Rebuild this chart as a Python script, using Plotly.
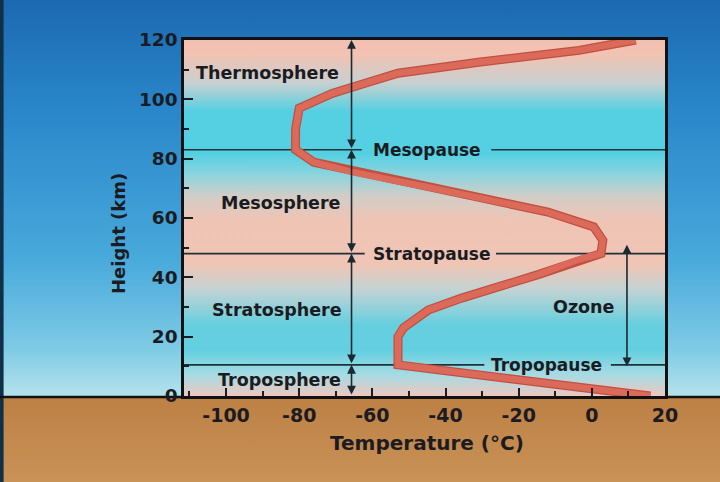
import plotly.graph_objects as go

# temperature profile
height_km = [0, 10.5, 20, 23, 29, 33, 41, 46, 48, 52.5, 57, 62, 69, 75.4, 78.8, 83,
             90, 97, 102, 105.4, 108.8, 112.5, 116.5, 120]
temp_c = [16, -53, -53, -51.5, -44.7, -35.6, -14.5, -3.6, 2.5, 3, 0.5, -12, -39.5, -65.2, -76, -81,
          -81, -80, -71, -62, -53, -31, -3.5, 12]

# layer boundaries (km)
pause_names = ["Tropopause", "Stratopause", "Mesopause"]
pause_km = [10.5, 48, 83]
layer_names = ["Troposphere", "Stratosphere", "Mesosphere", "Thermosphere"]
layer_edges = [0, 10.5, 48, 83, 120]
ozone_km = [9.5, 51]

x_ticks = [-100, -80, -60, -40, -20, 0, 20]
y_ticks = [0, 20, 40, 60, 80, 100, 120]

ink = "#1b1b22"
font = dict(family="DejaVu Sans", size=19, color=ink, weight="bold")
x_lo, x_hi = -111.5, 20
arrow_x = -65.7

fig = go.Figure()

# slide background: sky, ground, horizon (on a full-page helper axis)
horizon = (482 - 397) / 482
fig.add_trace(go.Scatter(
    x=[0, 1, 1, 0, 0], y=[horizon, horizon, 1, 1, horizon], mode="lines", line_width=0,
    fill="toself", hoverinfo="skip",
    fillgradient=dict(type="vertical", start=horizon, stop=1,
                      colorscale=[[0, "#b6e3eb"], [0.12, "#7ecbe5"], [0.35, "#48a9db"],
                                  [0.7, "#2b89cb"], [1, "#1b69b1"]])))
fig.add_trace(go.Scatter(
    x=[0, 1, 1, 0, 0], y=[0, 0, horizon, horizon, 0], mode="lines", line_width=0,
    fill="toself", hoverinfo="skip",
    fillgradient=dict(type="vertical", start=0, stop=horizon,
                      colorscale=[[0, "#c99256"], [1, "#bd8045"]])))
fig.add_trace(go.Scatter(x=[0, 0.005, 0.005, 0, 0], y=[0, 0, 1, 1, 0], mode="lines", line_width=0,
                         fill="toself", fillcolor="#10304a", hoverinfo="skip"))
fig.add_trace(go.Scatter(x=[0, 1], y=[horizon, horizon], mode="lines",
                         line=dict(color="#111111", width=2.5), hoverinfo="skip"))

# chart interior bands
fig.add_trace(go.Scatter(
    x=[x_lo, x_hi, x_hi, x_lo, x_lo], y=[0, 0, 120, 120, 0], xaxis="x2", yaxis="y2",
    mode="lines", line_width=0, fill="toself", hoverinfo="skip",
    fillgradient=dict(type="vertical", start=0, stop=120,
                      colorscale=[[0, "#ecc8c0"], [0.06, "#a6dbe3"], [0.13, "#62cfe0"],
                                  [0.2, "#66cfdf"], [0.3, "#c4d3d4"], [0.37, "#f0c5b5"],
                                  [0.49, "#f0c4b4"], [0.56, "#d2cdc6"], [0.62, "#8ed4dd"],
                                  [0.68, "#55d0e2"], [0.8, "#55d0e2"], [0.88, "#c8d0d0"],
                                  [0.96, "#f2c2b2"], [1, "#f2c0b0"]])))

# boundary lines with gaps for labels
gaps = [(-29.4, 5.2), (-62.1, -26.2), (-62.9, -27.5)]
for km, (g0, g1) in zip(pause_km, gaps):
    fig.add_trace(go.Scatter(x=[x_lo, g0, None, g1, x_hi], y=[km, km, None, km, km],
                             xaxis="x2", yaxis="y2", mode="lines",
                             line=dict(color="#1d3338", width=1.6), hoverinfo="skip"))

# temperature curve
fig.add_trace(go.Scatter(x=temp_c, y=height_km, xaxis="x2", yaxis="y2", mode="lines",
                         line=dict(color="#c0503f", width=9), hoverinfo="skip"))
fig.add_trace(go.Scatter(x=temp_c, y=height_km, xaxis="x2", yaxis="y2", mode="lines",
                         line=dict(color="#dc6a5b", width=6.5), hoverinfo="skip"))

annotations = []
# layer arrows
for lo, hi in zip(layer_edges[:-1], layer_edges[1:]):
    annotations.append(dict(x=arrow_x, y=hi, ax=arrow_x, ay=lo, xref="x2", yref="y2",
                            axref="x2", ayref="y2", text="", showarrow=True, arrowside="end+start",
                            arrowhead=2, arrowsize=1.1, arrowwidth=1.6, arrowcolor="#1b2a30"))
annotations.append(dict(x=9.6, y=ozone_km[1], ax=9.6, ay=ozone_km[0], xref="x2", yref="y2",
                        axref="x2", ayref="y2", text="", showarrow=True, arrowside="end+start",
                        arrowhead=2, arrowsize=1.1, arrowwidth=1.6, arrowcolor="#1b2a30"))

label_x = [-85.3, -86, -85, -88.6]
label_y = [5.4, 29, 65, 109]
for name, lx, ly in zip(layer_names, label_x, label_y):
    annotations.append(dict(x=lx, y=ly, xref="x2", yref="y2", text=name, showarrow=False,
                            font=dict(font, size=17.5)))
pause_x = [-12.3, -43.8, -45.2]
for name, px, km in zip(pause_names, pause_x, pause_km):
    annotations.append(dict(x=px, y=km, xref="x2", yref="y2", text=name, showarrow=False,
                            font=dict(font, size=17)))
annotations.append(dict(x=-2.2, y=30, xref="x2", yref="y2", text="Ozone", showarrow=False,
                        font=dict(font, size=17.5)))

# axis titles
annotations.append(dict(x=118 / 720, y=(482 - 234) / 482, xref="paper", yref="paper",
                        xanchor="center", yanchor="middle",
                        text="Height (km)", textangle=-90, showarrow=False, font=dict(font, size=18)))
annotations.append(dict(x=427 / 720, y=(482 - 443) / 482, xref="paper", yref="paper",
                        xanchor="center", yanchor="middle",
                        text="Temperature (°C)", showarrow=False, font=dict(font, size=20)))

fig.update_layout(
    width=720, height=482, margin=dict(l=0, r=0, t=0, b=0, pad=0), showlegend=False,
    paper_bgcolor="#2b89cb", plot_bgcolor="rgba(0,0,0,0)",
    xaxis=dict(domain=[0, 1], range=[0, 1], visible=False, fixedrange=True, automargin=False),
    yaxis=dict(domain=[0, 1], range=[0, 1], visible=False, fixedrange=True, automargin=False),
    xaxis2=dict(domain=[184 / 720, 665 / 720], range=[x_lo, x_hi], anchor="y2", automargin=False,
                tickvals=x_ticks, ticktext=[str(v) for v in x_ticks],
                ticks="inside", ticklen=8, tickwidth=1.5, tickcolor=ink,
                minor=dict(dtick=10, tick0=0, ticks="inside", ticklen=5, tickcolor=ink),
                showline=True, linecolor="#111111", linewidth=2.5, mirror=True,
                showgrid=False, zeroline=False, tickfont=font, fixedrange=True),
    yaxis2=dict(domain=[(482 - 396) / 482, (482 - 40) / 482], range=[0, 120], anchor="x2",
                automargin=False, tickvals=y_ticks, ticktext=[str(v) for v in y_ticks],
                ticks="inside", ticklen=9, tickwidth=1.5, tickcolor=ink,
                minor=dict(dtick=10, tick0=0, ticks="inside", ticklen=5, tickcolor=ink),
                showline=True, linecolor="#111111", linewidth=2.5, mirror=True,
                showgrid=False, zeroline=False, tickfont=dict(font, size=18.5), fixedrange=True),
    annotations=annotations,
)

fig.write_html("out.html", config={"displayModeBar": False},
               post_script="document.body.style.margin='0';")
